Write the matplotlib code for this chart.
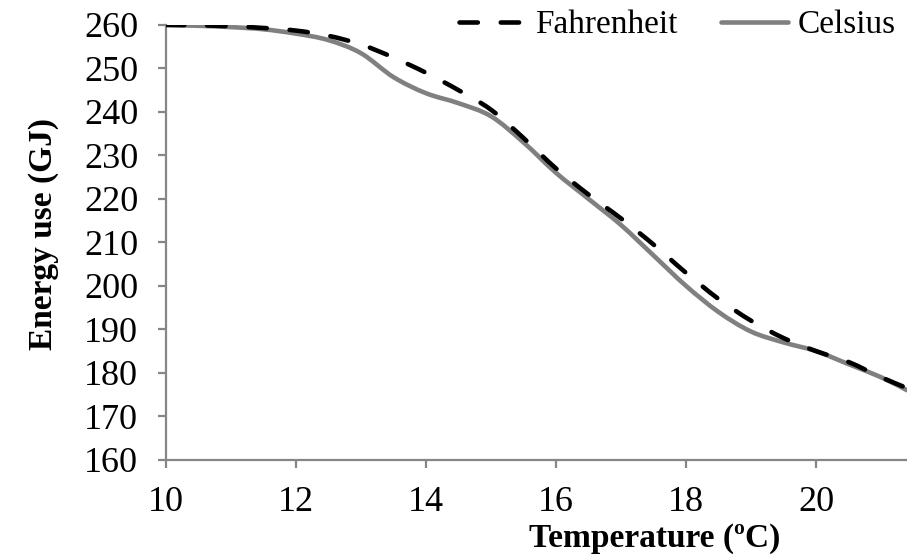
import numpy as np
import matplotlib
matplotlib.use("Agg")
import matplotlib.pyplot as plt
from matplotlib.path import Path
from matplotlib.patches import PathPatch
from matplotlib.lines import Line2D

plt.rcParams['font.family'] = ['Liberation Serif', 'DejaVu Serif']

# temperature set-point (ºC)
temp = [10, 10.5, 11, 11.5, 12, 12.5, 13, 13.5, 14, 14.5, 15, 15.5, 16,
        16.5, 17, 17.5, 18, 18.5, 19, 19.5, 20, 20.5, 21, 21.4]
# energy use (GJ)
fahrenheit = [260, 259.9, 259.7, 259.3, 258.7, 257.5, 255.5, 252.5, 249, 245,
              240.5, 234, 227, 221, 215.5, 209.5, 203, 197, 192, 188,
              185, 182.5, 179, 176.5]
celsius = [260, 259.8, 259.5, 259.0, 258, 256.5, 253.5, 248, 244.3, 242,
           239, 233, 226, 220, 214, 207, 200, 194, 189.5, 187,
           185, 182, 179, 176]

GRAY = '#868686'


def smooth_path(xs, ys):
    # Excel-like smoothed line: cubic Bezier through the points
    xs = np.asarray(xs, float)
    ys = np.asarray(ys, float)
    verts = [(xs[0], ys[0])]
    codes = [Path.MOVETO]
    n = len(xs)
    for i in range(n - 1):
        x0, y0 = (xs[i - 1], ys[i - 1]) if i > 0 else (xs[i], ys[i])
        x3, y3 = (xs[i + 2], ys[i + 2]) if i + 2 < n else (xs[i + 1], ys[i + 1])
        c1 = (xs[i] + (xs[i + 1] - x0) / 6, ys[i] + (ys[i + 1] - y0) / 6)
        c2 = (xs[i + 1] - (x3 - xs[i]) / 6, ys[i + 1] - (y3 - ys[i]) / 6)
        verts += [c1, c2, (xs[i + 1], ys[i + 1])]
        codes += [Path.CURVE4] * 3
    return Path(verts, codes)


fig = plt.figure(figsize=(9.07, 5.54), dpi=100)
ax = fig.add_axes([0.183, 0.170, 0.817, 0.785])

ax.add_patch(PathPatch(smooth_path(temp, celsius), facecolor='none',
                       edgecolor='#808080', lw=3.3, capstyle='round',
                       zorder=2))
ax.add_patch(PathPatch(smooth_path(temp, fahrenheit), facecolor='none',
                       edgecolor='black', lw=3.3, linestyle=(0, (4, 5)),
                       capstyle='round', zorder=3))

ax.set_xlim(10, 21.4)
ax.set_ylim(160, 260)
ax.set_xticks([10, 12, 14, 16, 18, 20])
ax.set_yticks(np.arange(160, 261, 10))

for s in ['top', 'right']:
    ax.spines[s].set_visible(False)
for s in ['left', 'bottom']:
    ax.spines[s].set_color(GRAY)
    ax.spines[s].set_linewidth(1.6)

ax.tick_params(axis='both', colors=GRAY, labelcolor='black', width=1.6,
               length=6, labelsize=26, direction='out')
ax.tick_params(axis='y', pad=14)
ax.tick_params(axis='x', pad=13)

ax.set_xlabel('Temperature (ºC)', fontsize=24, fontweight='bold')
ax.xaxis.set_label_coords(0.66, -0.145)
ax.set_ylabel('Energy use (GJ)', fontsize=24, fontweight='bold')
ax.yaxis.set_label_coords(-0.145, 0.52)

handles = [
    Line2D([], [], color='black', lw=3.3, dashes=(4, 5),
           dash_capstyle='round'),
    Line2D([], [], color='#808080', lw=3.3, solid_capstyle='round'),
]
ax.legend(handles, ['Fahrenheit', 'Celsius'], loc='upper right',
          bbox_to_anchor=(1.003, 1.065), ncol=2, frameon=False, fontsize=24,
          handlelength=2.0, handletextpad=0.3, columnspacing=1.3,
          borderaxespad=0)

fig.savefig('out.png', dpi=100)
